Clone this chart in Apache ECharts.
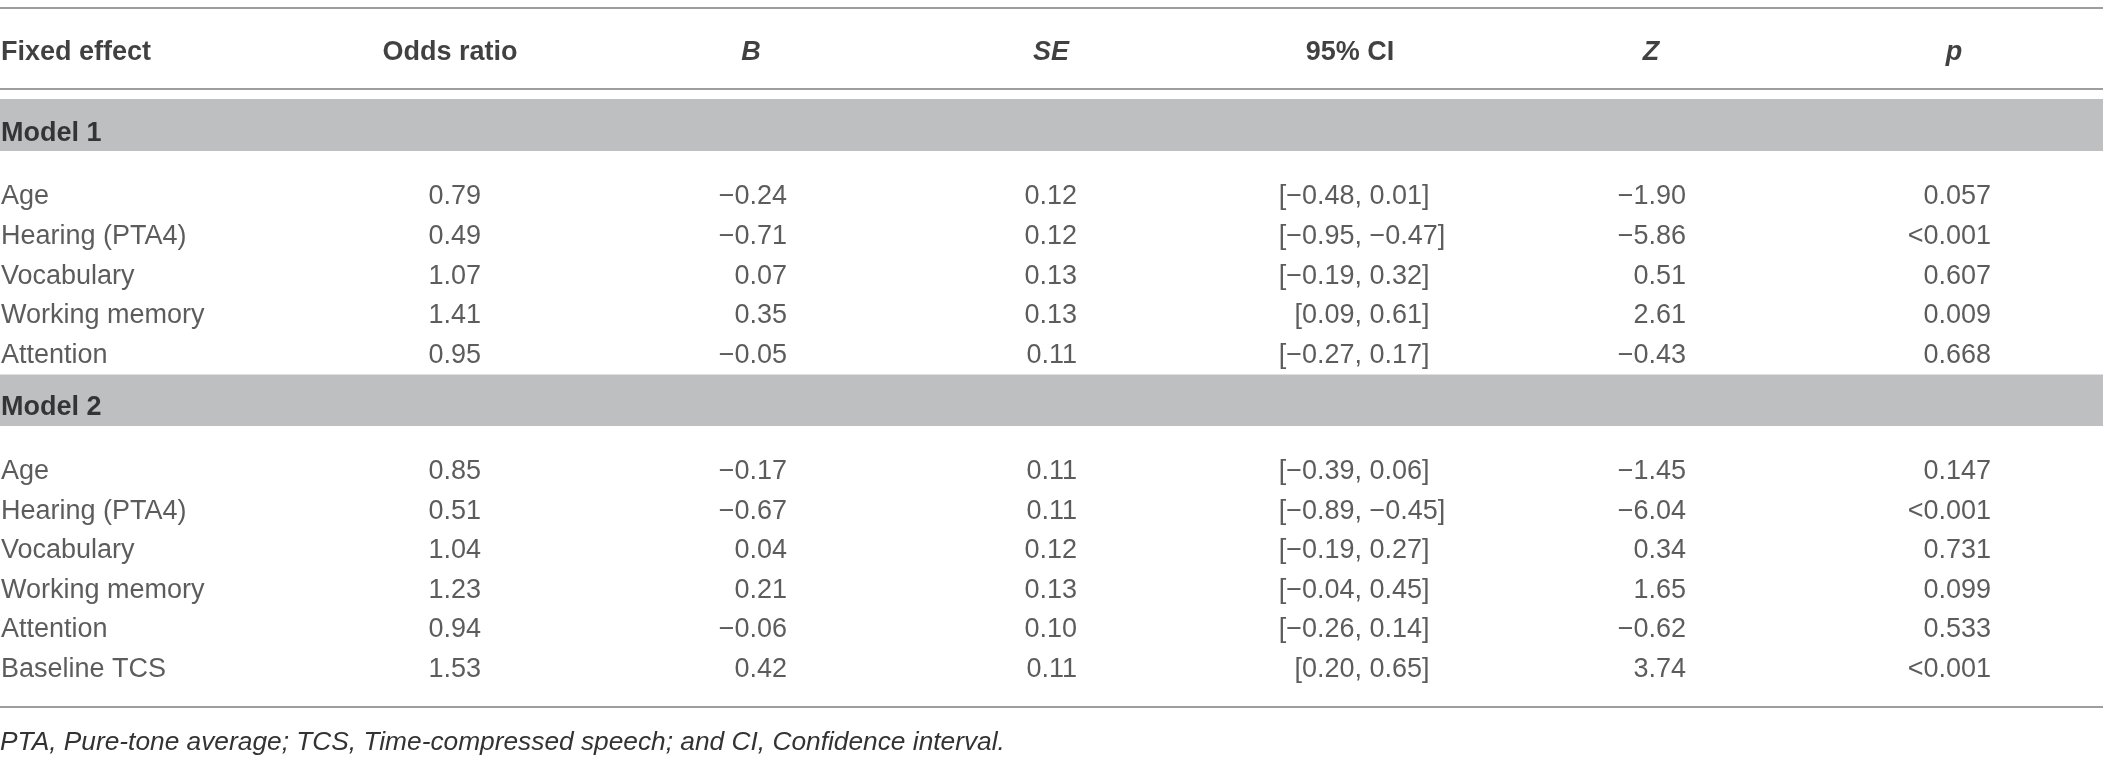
<!DOCTYPE html>
<html>
<head>
<meta charset="utf-8">
<script src="https://cdn.jsdelivr.net/npm/echarts@6/dist/echarts.min.js"></script>
<style>
html,body{margin:0;padding:0;background:#fff;}
#chart{width:2103px;height:762px;}
</style>
</head>
<body>
<div id="chart"></div>
<script>
// ---------- data ----------
const columns = ['Fixed effect', 'Odds ratio', 'B', 'SE', '95% CI', 'Z', 'p'];
const columnItalic = [false, false, true, true, false, true, true];
const models = ['Model 1', 'Model 2'];

const effects1 = ['Age', 'Hearing (PTA4)', 'Vocabulary', 'Working memory', 'Attention'];
const oddsRatio1 = [0.79, 0.49, 1.07, 1.41, 0.95];
const b1 = [-0.24, -0.71, 0.07, 0.35, -0.05];
const se1 = [0.12, 0.12, 0.13, 0.13, 0.11];
const ciLow1 = [-0.48, -0.95, -0.19, 0.09, -0.27];
const ciHigh1 = [0.01, -0.47, 0.32, 0.61, 0.17];
const z1 = [-1.90, -5.86, 0.51, 2.61, -0.43];
const p1 = ['0.057', '<0.001', '0.607', '0.009', '0.668'];

const effects2 = ['Age', 'Hearing (PTA4)', 'Vocabulary', 'Working memory', 'Attention', 'Baseline TCS'];
const oddsRatio2 = [0.85, 0.51, 1.04, 1.23, 0.94, 1.53];
const b2 = [-0.17, -0.67, 0.04, 0.21, -0.06, 0.42];
const se2 = [0.11, 0.11, 0.12, 0.13, 0.10, 0.11];
const ciLow2 = [-0.39, -0.89, -0.19, -0.04, -0.26, 0.20];
const ciHigh2 = [0.06, -0.45, 0.27, 0.45, 0.14, 0.65];
const z2 = [-1.45, -6.04, 0.34, 1.65, -0.62, 3.74];
const p2 = ['0.147', '<0.001', '0.731', '0.099', '0.533', '<0.001'];

const footnote = 'PTA, Pure-tone average; TCS, Time-compressed speech; and CI, Confidence interval.';

// ---------- layout (pixel space of the 2103 x 762 canvas) ----------
const W = 2103, H = 762;
const FONT = "'Liberation Sans', Arial, Helvetica, sans-serif";
const FS = 27;
const layout = {
  headerY: 52.5,
  headerCenters: [1, 450, 751, 1051, 1350, 1651, 1954],
  headerAlign: ['left', 'center', 'center', 'center', 'center', 'center', 'center'],
  effectX: 1, orX: 481, bX: 787, seX: 1077, ciCommaX: 1362, zX: 1686, pX: 1991,
  bands: [[99, 151], [374.5, 426]],
  modelY: [133.5, 407.5],
  rowStart: [197, 471.5],
  rowStep: 39.6,
  lines: [8, 88.5, 707],
  footY: 729.5
};

const fmt = v => v.toFixed(2).replace('-', '\u2212');

const blocks = [
  { effects: effects1, or: oddsRatio1, b: b1, se: se1, lo: ciLow1, hi: ciHigh1, z: z1, p: p1 },
  { effects: effects2, or: oddsRatio2, b: b2, se: se2, lo: ciLow2, hi: ciHigh2, z: z2, p: p2 }
];

function rowsOf(getText, x) {
  const out = [];
  blocks.forEach((blk, m) => {
    blk.effects.forEach((_, i) => {
      out.push([x, layout.rowStart[m] + i * layout.rowStep, getText(blk, i)]);
    });
  });
  return out;
}

function textSeries(name, data, align, extra) {
  return {
    name: name,
    type: 'scatter',
    symbolSize: 0,
    silent: true,
    itemStyle: { color: 'transparent' },
    data: data,
    label: Object.assign({
      show: true,
      position: [0, 0],
      align: align,
      verticalAlign: 'middle',
      fontFamily: FONT,
      fontSize: FS,
      color: '#333333',
      formatter: p => p.value[2]
    }, extra || {})
  };
}

const headerSeries = textSeries('header',
  columns.map((c, i) => ({
    value: [layout.headerCenters[i], layout.headerY, c],
    label: { align: layout.headerAlign[i], fontStyle: columnItalic[i] ? 'italic' : 'normal' }
  })),
  'center',
  { fontWeight: 'bold', color: '#111111' });

headerSeries.markArea = {
  silent: true,
  itemStyle: { color: '#bebfc1', opacity: 1 },
  data: layout.bands.map(b => [{ yAxis: b[0] }, { yAxis: b[1] }])
};
headerSeries.markLine = {
  silent: true,
  symbol: ['none', 'none'],
  label: { show: false },
  lineStyle: { color: '#9e9e9e', width: 2, type: 'solid' },
  data: layout.lines.map(y => ({ yAxis: y }))
};

const series = [
  headerSeries,
  textSeries('models', models.map((m, i) => [layout.effectX, layout.modelY[i], m]), 'left',
    { fontWeight: 'bold', color: '#111111' }),
  textSeries('effect', rowsOf((b, i) => b.effects[i], layout.effectX), 'left'),
  textSeries('odds', rowsOf((b, i) => b.or[i].toFixed(2), layout.orX), 'right'),
  textSeries('B', rowsOf((b, i) => fmt(b.b[i]), layout.bX), 'right'),
  textSeries('SE', rowsOf((b, i) => b.se[i].toFixed(2), layout.seX), 'right'),
  textSeries('ciLow', rowsOf((b, i) => '[' + fmt(b.lo[i]) + ',', layout.ciCommaX), 'right'),
  textSeries('ciHigh', rowsOf((b, i) => ' ' + fmt(b.hi[i]) + ']', layout.ciCommaX), 'left'),
  textSeries('Z', rowsOf((b, i) => fmt(b.z[i]), layout.zX), 'right'),
  textSeries('p', rowsOf((b, i) => b.p[i], layout.pX), 'right')
];

const chart = echarts.init(document.getElementById('chart'), null, { renderer: 'canvas' });
chart.setOption({
  animation: false,
  backgroundColor: '#ffffff',
  title: {
    text: footnote,
    left: 0,
    top: layout.footY,
    padding: 0,
    textStyle: { fontFamily: FONT, fontSize: 26.3, fontStyle: 'italic', fontWeight: 'normal', color: '#333333' }
  },
  grid: { left: 0, right: 0, top: 0, bottom: 0 },
  xAxis: { type: 'value', min: 0, max: W, show: false },
  yAxis: { type: 'value', min: 0, max: H, inverse: true, show: false },
  series: series
});
</script>
</body>
</html>
